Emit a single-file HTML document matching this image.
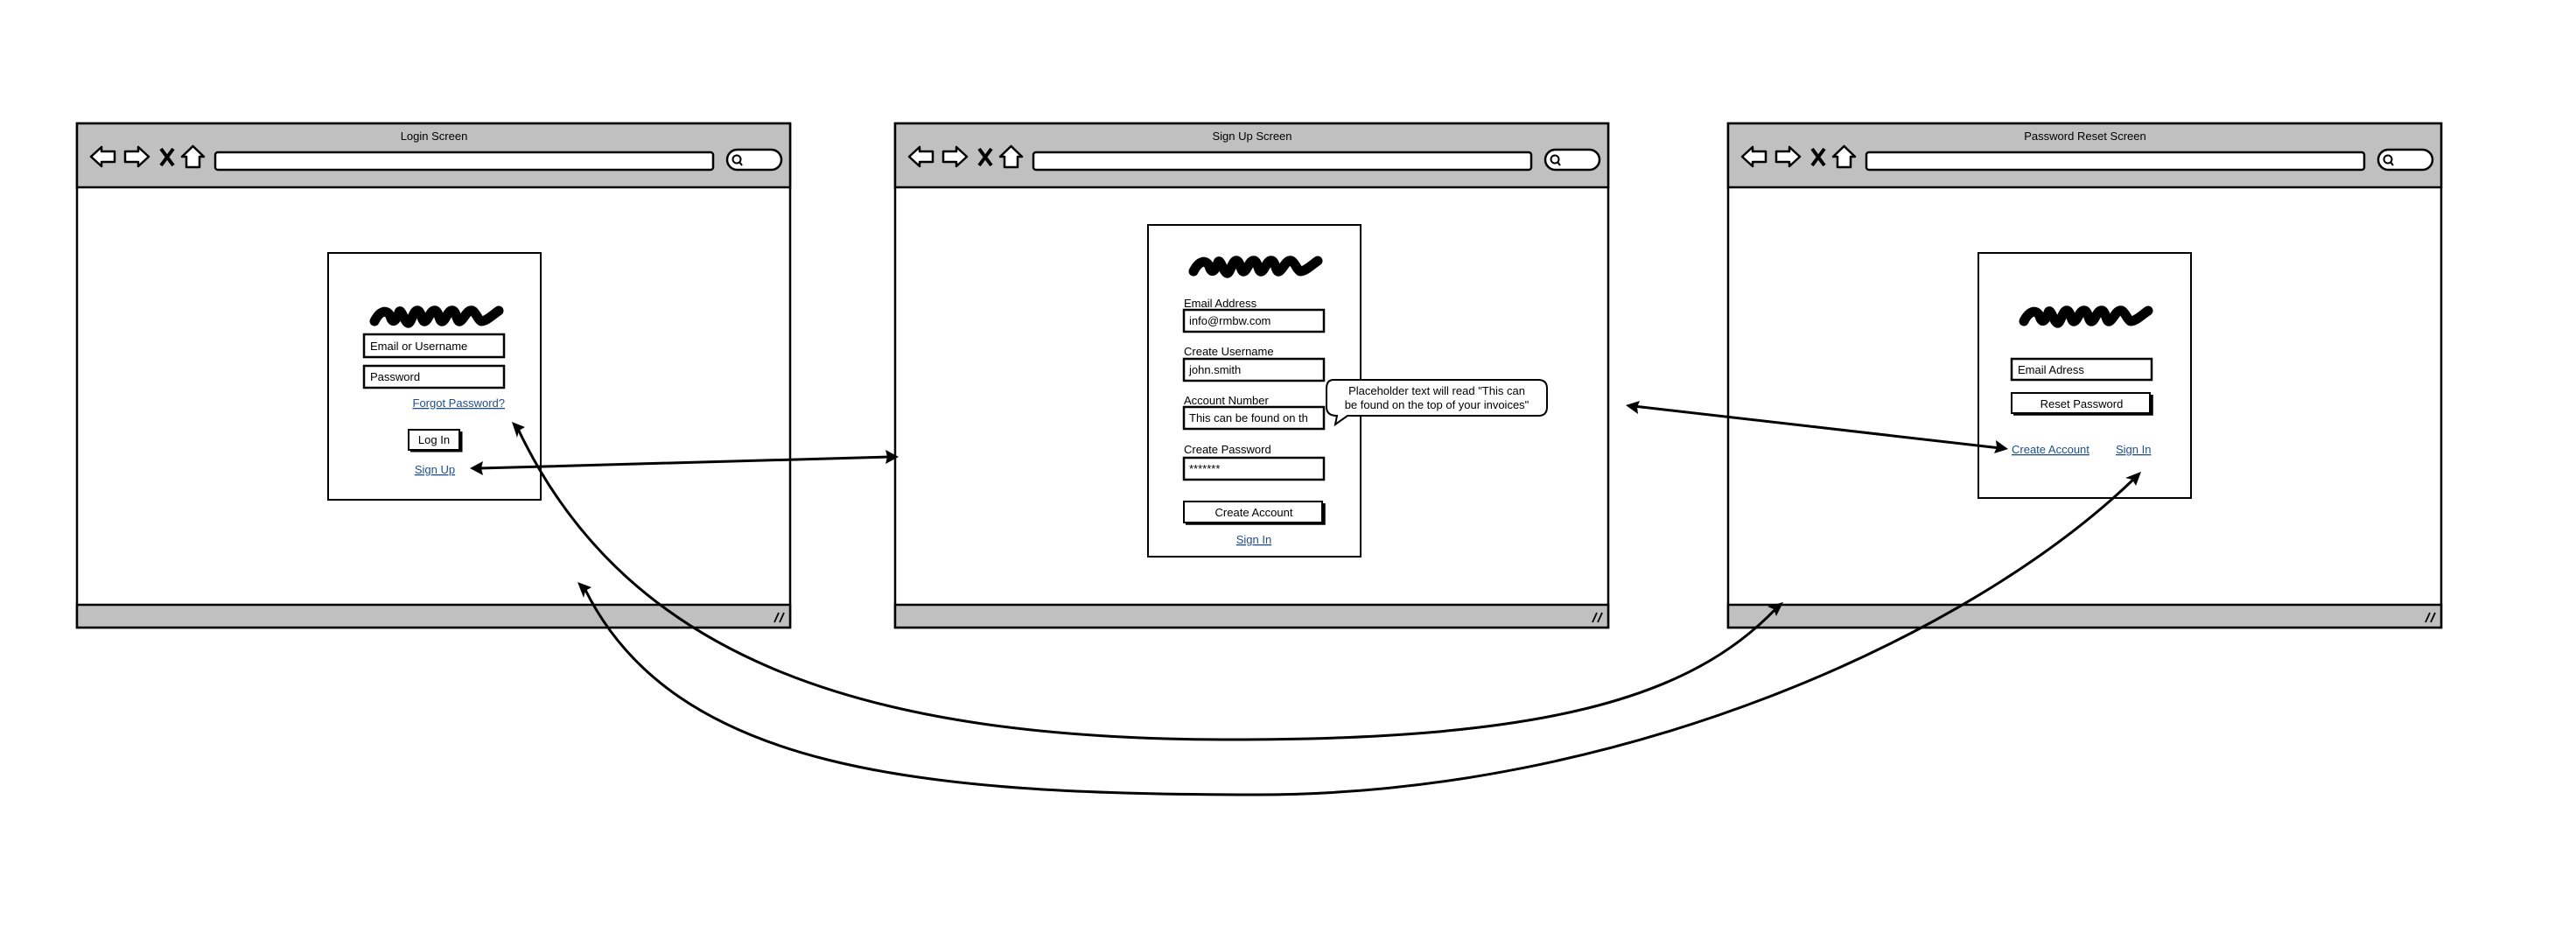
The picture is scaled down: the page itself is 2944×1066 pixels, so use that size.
<!DOCTYPE html>
<html><head><meta charset="utf-8"><style>
html,body{margin:0;padding:0;background:#fff;}
svg{display:block;}
text{font-family:"Liberation Sans",sans-serif;font-size:13px;fill:#000;}
.lnk{fill:#1f4e8c;text-decoration:underline;}
</style></head><body>
<svg width="2944" height="1066" viewBox="0 0 2944 1066" xmlns="http://www.w3.org/2000/svg">
<defs>
<g id="win">
  <rect x="0" y="141" width="815" height="576" fill="#fff" stroke="#000" stroke-width="2.5"/>
  <rect x="0" y="141" width="815" height="73" fill="#c0c0c0" stroke="#000" stroke-width="2.5"/>
  <rect x="0" y="691" width="815" height="26" fill="#c0c0c0" stroke="#000" stroke-width="2.5"/>
  <polygon points="16,179 28,168 28,173 43,173 43,185 28,185 28,190" fill="#fff" stroke="#000" stroke-width="2.5" stroke-linejoin="round"/>
  <polygon points="82,179 70,168 70,173 55,173 55,185 70,185 70,190" fill="#fff" stroke="#000" stroke-width="2.5" stroke-linejoin="round"/>
  <path d="M96,170 L110,189 M110,170 L96,189" stroke="#000" stroke-width="4"/>
  <polygon points="132.5,167 145,179 140,179 140,191 125,191 125,179 120,179" fill="#fff" stroke="#000" stroke-width="2.5" stroke-linejoin="round"/>
  <rect x="158" y="174" width="569" height="20" rx="3" fill="#fff" stroke="#000" stroke-width="2.5"/>
  <rect x="743" y="171" width="62" height="23" rx="11.5" fill="#fff" stroke="#000" stroke-width="2.5"/>
  <circle cx="754" cy="182" r="4.5" fill="none" stroke="#000" stroke-width="2"/>
  <path d="M757,185 L760,189" stroke="#000" stroke-width="2"/>
  <path d="M797,711 L802,700 M803,711 L808,700" stroke="#000" stroke-width="1.8"/>
</g>
<g id="logo">
  <path d="M4,22 C10,10 18,8 22,16 C24,24 28,24 32,12 C34,6 38,22 42,24 C46,26 48,8 54,10 C58,12 58,24 62,22 C66,20 68,8 74,10 C78,12 78,24 82,22 C86,20 88,8 94,10 C98,12 98,24 102,22 C106,20 110,8 116,10 C120,12 122,20 126,22 C132,22 140,14 146,10" fill="none" stroke="#000" stroke-width="11" stroke-linecap="round" stroke-linejoin="round"/>
</g>
</defs>

<use href="#win" x="88"/>
<use href="#win" x="1023"/>
<use href="#win" x="1975"/>
<text x="496" y="160" text-anchor="middle">Login Screen</text>
<text x="1431" y="160" text-anchor="middle">Sign Up Screen</text>
<text x="2383" y="160" text-anchor="middle">Password Reset Screen</text>

<!-- Login form -->
<rect x="375" y="289" width="243" height="282" fill="#fff" stroke="#000" stroke-width="2"/>
<use href="#logo" x="424" y="345"/>
<rect x="416" y="382" width="160" height="26" fill="#fff" stroke="#000" stroke-width="2.5"/>
<text x="423" y="400">Email or Username</text>
<rect x="416" y="418" width="160" height="25" fill="#fff" stroke="#000" stroke-width="2.5"/>
<text x="423" y="435">Password</text>
<text x="577" y="465" text-anchor="end" class="lnk">Forgot Password?</text>
<rect x="467" y="491" width="58" height="23" fill="#fff" stroke="#000" stroke-width="2"/>
<path d="M469,515 L527,515 L527,493" fill="none" stroke="#000" stroke-width="3"/>
<text x="496" y="507" text-anchor="middle">Log In</text>
<text x="497" y="541" text-anchor="middle" class="lnk">Sign Up</text>

<!-- Sign up form -->
<rect x="1312" y="257" width="243" height="379" fill="#fff" stroke="#000" stroke-width="2"/>
<use href="#logo" x="1360" y="288"/>
<text x="1353" y="351">Email Address</text>
<rect x="1353" y="354" width="160" height="25" fill="#fff" stroke="#000" stroke-width="2.5"/>
<text x="1359" y="371">info@rmbw.com</text>
<text x="1353" y="406">Create Username</text>
<rect x="1353" y="410" width="160" height="25" fill="#fff" stroke="#000" stroke-width="2.5"/>
<text x="1359" y="427">john.smith</text>
<text x="1353" y="462">Account Number</text>
<rect x="1353" y="465" width="160" height="25" fill="#fff" stroke="#000" stroke-width="2.5"/>
<text x="1359" y="482">This can be found on th</text>
<text x="1353" y="518">Create Password</text>
<rect x="1353" y="523" width="160" height="25" fill="#fff" stroke="#000" stroke-width="2.5"/>
<text x="1359" y="540">*******</text>
<rect x="1353" y="573" width="158" height="24" fill="#fff" stroke="#000" stroke-width="2"/>
<path d="M1355,598 L1513,598 L1513,575" fill="none" stroke="#000" stroke-width="3.5"/>
<text x="1433" y="590" text-anchor="middle">Create Account</text>
<text x="1433" y="621" text-anchor="middle" class="lnk">Sign In</text>
<path d="M1524,434 L1758,434 Q1768,434 1768,444 L1768,465 Q1768,475 1758,475 L1540,475 L1526,485 L1528,475 Q1516,475 1516,465 L1516,444 Q1516,434 1524,434 Z" fill="#fff" stroke="#000" stroke-width="2"/>
<text x="1642" y="451" text-anchor="middle">Placeholder text will read "This can</text>
<text x="1642" y="467" text-anchor="middle">be found on the top of your invoices"</text>

<!-- Password reset form -->
<rect x="2261" y="289" width="243" height="280" fill="#fff" stroke="#000" stroke-width="2"/>
<use href="#logo" x="2309" y="345"/>
<rect x="2299" y="410" width="160" height="24" fill="#fff" stroke="#000" stroke-width="2.5"/>
<text x="2306" y="427">Email Adress</text>
<rect x="2299" y="449" width="158" height="23" fill="#fff" stroke="#000" stroke-width="2"/>
<path d="M2301,473 L2459,473 L2459,451" fill="none" stroke="#000" stroke-width="3.5"/>
<text x="2379" y="466" text-anchor="middle">Reset Password</text>
<text x="2299" y="518" class="lnk">Create Account</text>
<text x="2418" y="518" class="lnk">Sign In</text>

<!-- connectors -->
<g fill="none" stroke="#000" stroke-width="3" stroke-linecap="round">
  <path d="M548,535 L1018,522"/>
  <path d="M1867,464 L2286,512"/>
  <path d="M592,490 C720,760 1000,845 1408,845 C1760,845 1930,800 2030,695"/>
  <path d="M668,672 C770,880 1050,908 1437,908 C1850,908 2250,730 2440,546"/>
</g>
<g fill="#000">
  <polygon points="537,535 552,527 550,535 552,543"/>
  <polygon points="1027,522 1012,514 1014,522 1012,530"/>
  <polygon points="1858,463 1874,458 1871,465 1872,473"/>
  <polygon points="2295,513 2279,518 2282,511 2281,503"/>
  <polygon points="585,482 600,488 593,492 591,500"/>
  <polygon points="660,665 676,671 669,675 667,683"/>
  <polygon points="2038,688 2030,704 2027,696 2020,693"/>
  <polygon points="2447,539 2441,555 2437,548 2429,546"/>
</g>
</svg>
</body></html>
